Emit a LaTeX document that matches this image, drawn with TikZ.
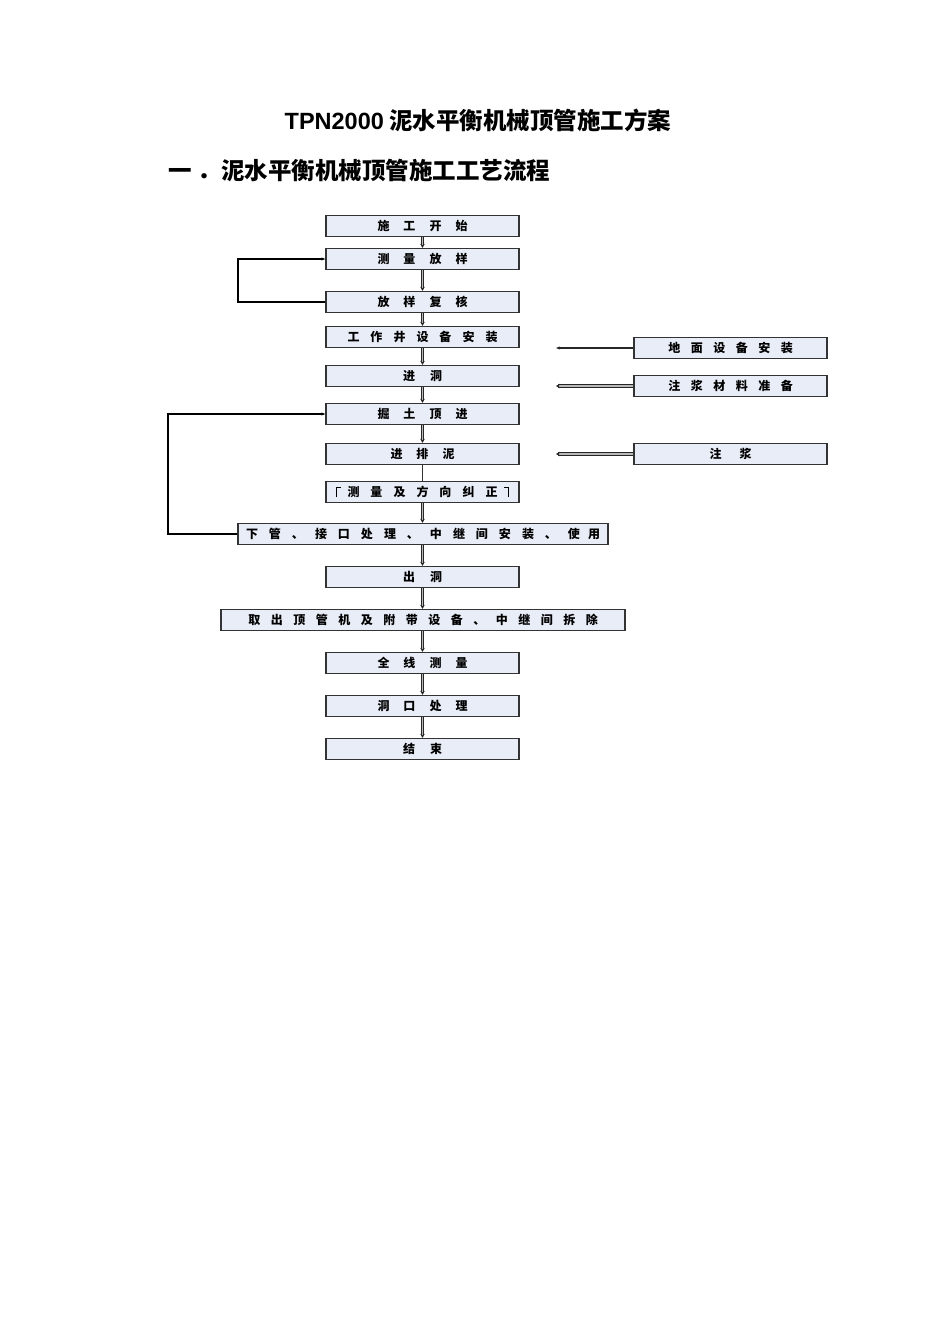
\documentclass[tikz,border=0pt]{standalone}
\usepackage{fontspec}
\setmainfont{Noto Sans CJK SC}
\newfontfamily\cjk{Noto Sans CJK SC}
\newfontfamily\lat{Liberation Sans}
\usetikzlibrary{arrows.meta}
\newcommand\gq{\hspace{14pt}}
\definecolor{boxfill}{HTML}{E9EDF7}
\definecolor{boxline}{HTML}{333333}
\tikzset{
  stepbox/.style={draw=boxline, line width=1.3pt, fill=boxfill, minimum width=193pt, minimum height=21pt, inner sep=0pt, font=\cjk\bfseries\fontsize{12}{14}\selectfont},
  dbl/.style={draw=black!85, double=gray!55, double distance=1.6pt, line width=0.7pt, -{Stealth[length=4pt,width=4.5pt]}},
  sgl/.style={draw=black!85, line width=1.6pt, -{Stealth[length=4pt,width=3pt]}},
  loopline/.style={draw=black, line width=1.2pt, -{Stealth[length=4pt,width=3pt]}},
}
\begin{document}
\begin{tikzpicture}[x=1pt,y=-1pt]
\useasboundingbox[fill=white] (0,0) rectangle (950,1344);
\node[font=\cjk\bfseries\fontsize{23.5}{26}\selectfont] (title) at (478,120) {{\lat\bfseries TPN2000} 泥水平衡机械顶管施工方案};
\node[font=\cjk\bfseries\fontsize{23.5}{26}\selectfont, anchor=west, inner sep=0pt] (head) at (168,170) {一\hspace{6pt}．泥水平衡机械顶管施工工艺流程};

\node[stepbox] (s1) at (422.5,226) {施\gq 工\gq 开\gq 始};
\node[stepbox] (s2) at (422.5,259) {测\gq 量\gq 放\gq 样};
\node[stepbox] (s3) at (422.5,302) {放\gq 样\gq 复\gq 核};
\node[stepbox] (s4) at (422.5,337) {工\hspace{11pt}作\hspace{11pt}井\hspace{11pt}设\hspace{11pt}备\hspace{11pt}安\hspace{11pt}装};
\node[stepbox] (s5) at (422.5,376) {进\hspace{15pt}洞};
\node[stepbox] (s6) at (422.5,414) {掘\gq 土\gq 顶\gq 进};
\node[stepbox] (s7) at (422.5,454) {进\gq 排\gq 泥};
\node[stepbox] (s8) at (422.5,492) {测\hspace{11pt}量\hspace{11pt}及\hspace{11pt}方\hspace{11pt}向\hspace{11pt}纠\hspace{11pt}正};
\node[stepbox, minimum width=370pt] (s9) at (423,534) {下\hspace{11pt}管\hspace{11pt}、\hspace{11pt}接\hspace{11pt}口\hspace{11pt}处\hspace{11pt}理\hspace{11pt}、\hspace{11pt}中\hspace{11pt}继\hspace{11pt}间\hspace{11pt}安\hspace{11pt}装\hspace{11pt}、\hspace{11pt}使\hspace{8pt}用};
\node[stepbox] (s10) at (422.5,577) {出\hspace{15pt}洞};
\node[stepbox, minimum width=404pt] (s11) at (423,620) {取\hspace{10.5pt}出\hspace{10.5pt}顶\hspace{10.5pt}管\hspace{10.5pt}机\hspace{10.5pt}及\hspace{10.5pt}附\hspace{10.5pt}带\hspace{10.5pt}设\hspace{10.5pt}备\hspace{10.5pt}、\hspace{10.5pt}中\hspace{10.5pt}继\hspace{10.5pt}间\hspace{10.5pt}拆\hspace{10.5pt}除};
\node[stepbox] (s12) at (422.5,663) {全\gq 线\gq 测\gq 量};
\node[stepbox] (s13) at (422.5,706) {洞\gq 口\gq 处\gq 理};
\node[stepbox] (s14) at (422.5,749) {结\hspace{15pt}束};

\node[stepbox] (r1) at (730.5,348) {地\hspace{10.5pt}面\hspace{10.5pt}设\hspace{10.5pt}备\hspace{10.5pt}安\hspace{10.5pt}装};
\node[stepbox] (r2) at (730.5,386) {注\hspace{10.5pt}浆\hspace{10.5pt}材\hspace{10.5pt}料\hspace{10.5pt}准\hspace{10.5pt}备};
\node[stepbox] (r3) at (730.5,454) {注\hspace{18pt}浆};

% bracket marks inside s8
\draw[line width=0.8pt] ([xshift=11pt,yshift=-5pt]s8.west) -- ([xshift=11pt,yshift=5pt]s8.west) -- ([xshift=16pt,yshift=5pt]s8.west);
\draw[line width=0.8pt] ([xshift=-11pt,yshift=-5pt]s8.east) -- ([xshift=-11pt,yshift=5pt]s8.east) -- ([xshift=-16pt,yshift=5pt]s8.east);

% main flow
\draw[dbl] (s1) -- (s2);
\draw[dbl] (s2) -- (s3);
\draw[dbl] (s3) -- (s4);
\draw[dbl] (s4) -- (s5);
\draw[dbl] (s5) -- (s6);
\draw[dbl] (s6) -- (s7);
\draw[draw=black!80, line width=0.8pt] (s7.south) -- (s8.north);
\draw[dbl] (s8.south) -- (s8.south |- s9.north);
\draw[dbl] (s8.south |- s9.south) -- (s10.north);
\draw[dbl] (s10.south) -- (s10.south |- s11.north);
\draw[dbl] (s10.south |- s11.south) -- (s12.north);
\draw[dbl] (s12) -- (s13);
\draw[dbl] (s13) -- (s14);

% side inputs
\coordinate (e1) at (556,348);
\coordinate (e2) at (556,386);
\coordinate (e3) at (556,454);
\draw[sgl] (r1.west) -- (e1);
\draw[dbl, double distance=2pt] (r2.west) -- (e2);
\draw[dbl, double distance=2pt] (r3.west) -- (e3);

% feedback loops
\draw[loopline] (s3.west) -- (238,302) -- (238,259) -- (s2.west);
\draw[loopline] (s9.west) -- (168,534) -- (168,414) -- (s6.west);
\end{tikzpicture}
\end{document}
